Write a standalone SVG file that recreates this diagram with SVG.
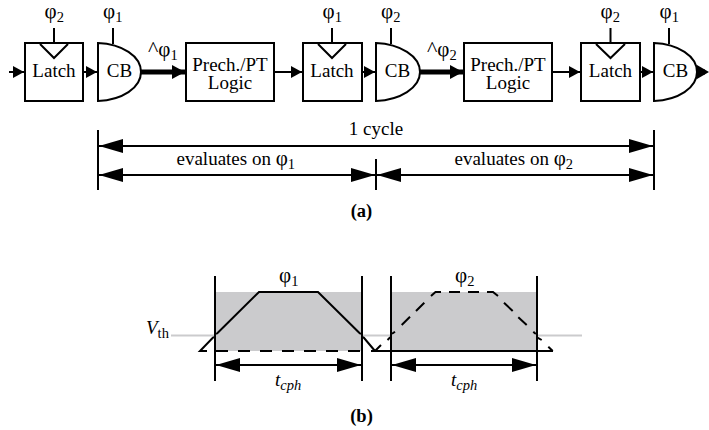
<svg xmlns="http://www.w3.org/2000/svg" width="709" height="430" viewBox="0 0 709 430">
<style>
text{font-family:"Liberation Serif","Times New Roman",serif;fill:#000;font-size:19px}
.m{text-anchor:middle}
.b{fill:#fff;stroke:#000;stroke-width:2}
.l{fill:none;stroke:#000;stroke-width:2}
.s{font-size:14.500px}
.p{font-size:21px}
.c{font-size:22px}
.h{font-size:18.500px;font-weight:bold}
.f{fill:#000;stroke:none}
.k{fill:none;stroke:#000;stroke-width:5}
</style>
<defs>
<marker id="a" markerUnits="userSpaceOnUse" markerWidth="13" markerHeight="13" refX="11" refY="6.500" orient="auto"><path d="M0 .5L11 6.500L0 12.500Z"/></marker>
<marker id="t" markerUnits="userSpaceOnUse" markerWidth="14" markerHeight="14" refX="13" refY="7" orient="auto"><path d="M0 0L13 7L0 14Z"/></marker>
<marker id="d" markerUnits="userSpaceOnUse" markerWidth="24" markerHeight="16" refX="24" refY="8" orient="auto-start-reverse"><path d="M0 1L24 8L0 15Z"/></marker>
</defs>

<g id="wave-shade">
<rect x="215" y="292" width="147" height="59" fill="#cbcbcd"/>
<rect x="391" y="292" width="146" height="59" fill="#cbcbcd"/>
</g>

<g id="latch1"><rect class="b" x="25" y="43" width="58" height="58"/><path class="l" d="M40 44L54 58L68 44M54 28V43"/><text class="m" x="54" y="77">Latch</text><text x="44.500" y="18"><tspan class="p">φ</tspan><tspan class="s" dy="4">2</tspan></text></g>
<g id="cb1"><path class="b" d="M98 43C122 44 141 56 141 72C141 88 122 100 98 101Z"/><path class="l" d="M113 28V44"/><text class="m" x="119.500" y="77">CB</text><text x="103" y="18"><tspan class="p">φ</tspan><tspan class="s" dy="4">1</tspan></text></g>
<g id="logic1"><rect class="b" x="186" y="43" width="88" height="58"/><text class="m" y="71"><tspan x="230">Prech./PT</tspan><tspan x="230" dy="18">Logic</tspan></text></g>
<g id="latch2"><rect class="b" x="303" y="43" width="59" height="58"/><path class="l" d="M318 44L332 58L346 44M332 28V43"/><text class="m" x="332" y="77">Latch</text><text x="322.500" y="18"><tspan class="p">φ</tspan><tspan class="s" dy="4">1</tspan></text></g>
<g id="cb2"><path class="b" d="M376 43C400 44 420 56 420 72C420 88 400 100 376 101Z"/><path class="l" d="M391 28V44"/><text class="m" x="397.500" y="77">CB</text><text x="381" y="18"><tspan class="p">φ</tspan><tspan class="s" dy="4">2</tspan></text></g>
<g id="logic2"><rect class="b" x="464" y="43" width="88" height="58"/><text class="m" y="71"><tspan x="508">Prech./PT</tspan><tspan x="508" dy="18">Logic</tspan></text></g>
<g id="latch3"><rect class="b" x="581" y="43" width="59" height="58"/><path class="l" d="M596 44L610.500 58L625 44M610.500 28V43"/><text class="m" x="610.500" y="77">Latch</text><text x="600.500" y="18"><tspan class="p">φ</tspan><tspan class="s" dy="4">2</tspan></text></g>
<g id="cb3"><path class="b" d="M654 43C678 44 697 56 697 72C697 88 678 100 654 101Z"/><path class="l" d="M669 28V44"/><text class="m" x="675.500" y="77">CB</text><text x="659.500" y="18"><tspan class="p">φ</tspan><tspan class="s" dy="4">1</tspan></text></g>

<g id="connectors">
<path class="l" d="M9 72H24" marker-end="url(#a)"/>
<path class="l" d="M83 72H97" marker-end="url(#a)"/>
<path class="k" d="M141 72H185" marker-end="url(#t)"/>
<path class="l" d="M274 72H302" marker-end="url(#a)"/>
<path class="l" d="M362 72H375" marker-end="url(#a)"/>
<path class="k" d="M420 72H463" marker-end="url(#t)"/>
<path class="l" d="M552 72H580" marker-end="url(#a)"/>
<path class="l" d="M640 72H653" marker-end="url(#a)"/>
<path class="k" d="M697 72H705"/>
<path class="f" d="M697 65L709 72L697 79Z"/>
</g>

<g id="labels-a">
<text x="148" y="56"><tspan class="c">^</tspan><tspan class="p">φ</tspan><tspan class="s" dy="4">1</tspan></text>
<text x="427" y="56"><tspan class="c">^</tspan><tspan class="p">φ</tspan><tspan class="s" dy="4">2</tspan></text>
<text class="m" x="376" y="135">1 cycle</text>
<text x="176.500" y="165">evaluates on <tspan class="p">φ</tspan><tspan class="s" dy="4">1</tspan></text>
<text x="454.500" y="165">evaluates on <tspan class="p">φ</tspan><tspan class="s" dy="4">2</tspan></text>
<text class="m h" x="361.500" y="217">(a)</text>
</g>

<g id="dimensions-a">
<path class="l" d="M98 130V190M376 159V190M654 130V190"/>
<path class="l" d="M99 146H653" marker-start="url(#d)" marker-end="url(#d)"/>
<path class="l" d="M99 175H375" marker-start="url(#d)" marker-end="url(#d)"/>
<path class="l" d="M377 175H653" marker-start="url(#d)" marker-end="url(#d)"/>
</g>

<g id="waveforms">
<path class="l" d="M207 351H200L215 335.500L259 292H318L362 335.500L375 351M371 351H553"/>
<path class="l" d="M216 351h12M238 351h12M260 351h12M282 351h12M304 351h12M326 351h12M348 351h12"/>
<path class="l" d="M375 351L381 345M387.500 340L391 336.500M391.700 334L395 331.700M401.700 325L410 316.700M416 311L424.300 302.700M431 296L435.500 292H441M449 292H460M468 292H479M487 292H493L498 296M504 302.700L512.700 311M518.300 317.300L526.700 325M533.300 331.700L536 334.300M537 337.300L541.700 340M548.300 346.700L552.700 351"/>
<path d="M171 335.500H582" stroke="#cbcbcd" stroke-width="2" fill="none"/>
<path class="l" d="M215 276V381M362 276V381M391 276V381M537 276V381"/>
</g>

<g id="dimensions-b">
<path class="l" d="M216 365H361" marker-start="url(#d)" marker-end="url(#d)"/>
<path class="l" d="M392 365H536" marker-start="url(#d)" marker-end="url(#d)"/>
</g>

<g id="labels-b">
<text x="279" y="282"><tspan class="p">φ</tspan><tspan class="s" dy="4">1</tspan></text>
<text x="455" y="282"><tspan class="p">φ</tspan><tspan class="s" dy="4">2</tspan></text>
<text x="146" y="334"><tspan font-style="italic">V</tspan><tspan class="s" dy="4">th</tspan></text>
<text x="275" y="386" font-style="italic">t<tspan class="s" dy="3.500">cph</tspan></text>
<text x="451" y="386" font-style="italic">t<tspan class="s" dy="3.500">cph</tspan></text>
<text class="m h" x="361.500" y="422">(b)</text>
</g>
</svg>
